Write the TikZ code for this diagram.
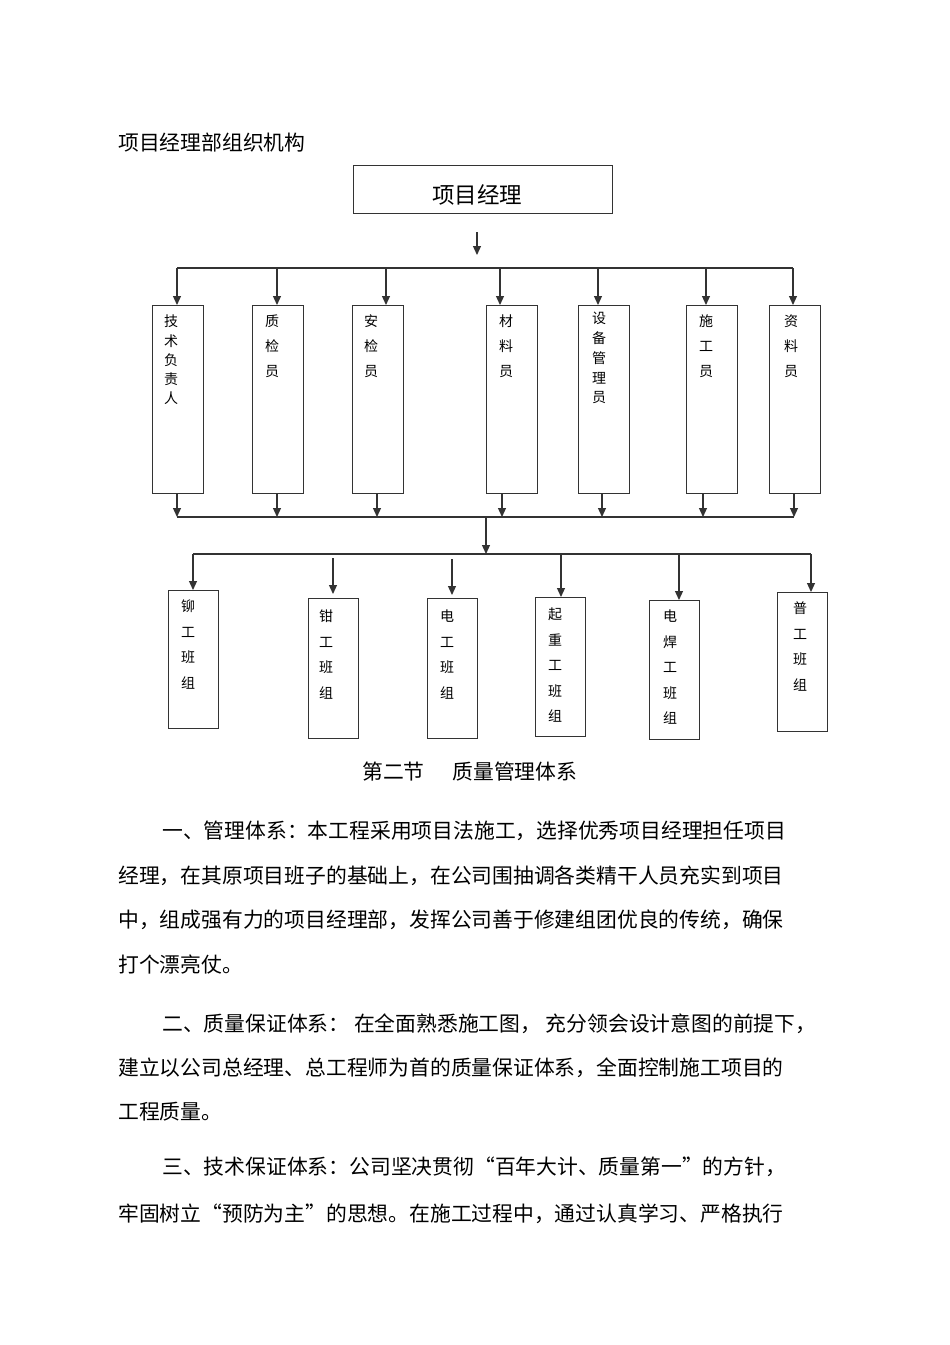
\documentclass[tikz,border=0pt]{standalone}
\usepackage{fontspec}
\setmainfont{Noto Sans CJK SC}
\usetikzlibrary{arrows.meta}

\begin{document}
\begin{tikzpicture}[x=1pt,y=-1pt,
  box/.style={draw=black!80,line width=1.2pt,inner sep=0pt,anchor=north west},
  vtext/.style={inner sep=0pt,anchor=north,align=center,font=\fontsize{14}{#1}\selectfont},
  vtext/.default=25,
  txt/.style={inner sep=0pt,anchor=west,font=\fontsize{20.8}{20.8}\selectfont},
  link/.style={draw=black!80,line width=1.2pt},
  arr/.style={link,-{Triangle[length=9pt,width=8pt]}}]

\useasboundingbox (0,0) rectangle (950,1345);

% heading
\node[txt] (title) at (118,143) {项目经理部组织机构};

% project manager
\node[box,minimum width=259pt,minimum height=48pt] (pm) at (353,165) {};
\node[inner sep=0pt,font=\fontsize{22.5}{22.5}\selectfont] (pmtext) at (477,195) {项目经理};
\coordinate (pmtop) at (477,232);
\coordinate (pmtip) at (477,255);
\draw[arr] (pmtop) -- (pmtip);

% staff
\foreach \n/\x/\ax/\bx in {b1/152/177/177,b2/252/277/277,b3/352/386/377,
  b4/486/500/502,b5/578/598/602,b6/686/706/703,b7/769/793/794}
{
  \node[box,minimum width=51pt,minimum height=188pt] (\n) at (\x,305) {};
  \coordinate (in-\n) at (\ax,268);
  \coordinate (out-\n) at (\bx,517);
  \draw[arr] (in-\n) -- (in-\n |- \n.north);
  \draw[arr] (out-\n |- \n.south) -- (out-\n);
}
\draw[link] (in-b1) -- (in-b7);
\draw[link] (out-b1) -- (out-b7);

\node[vtext=19.2] (b1t) at (171,315) {技\\术\\负\\责\\人};
\node[vtext] (b2t) at (272,315) {质\\检\\员};
\node[vtext] (b3t) at (371,315) {安\\检\\员};
\node[vtext] (b4t) at (506,315) {材\\料\\员};
\node[vtext=19.8] (b5t) at (599,312) {设\\备\\管\\理\\员};
\node[vtext] (b6t) at (706,315) {施\\工\\员};
\node[vtext] (b7t) at (791,315) {资\\料\\员};

% teams
\coordinate (mid) at (486,517);
\coordinate (midtip) at (486,554);
\draw[arr] (mid) -- (midtip);

\foreach \n/\x/\y/\h/\ax/\ay/\gap in {t1/168/590/138/193/554/0,t2/308/598/140/333/558/4,
  t3/427/598/140/452/559/3,t4/535/597/139/561/554/0,t5/649/600/139/679/554/0,
  t6/777/592/139/811/554/0}
{
  \node[box,minimum width=50pt,minimum height=\h pt] (\n) at (\x,\y) {};
  \coordinate (in-\n) at (\ax,\ay);
  \draw[arr,shorten >=\gap pt] (in-\n) -- (in-\n |- \n.north);
}
\draw[link] (in-t1) -- (in-t6);

\node[vtext=25.5] (t1t) at (188,600) {铆\\工\\班\\组};
\node[vtext=25.5] (t2t) at (326,610) {钳\\工\\班\\组};
\node[vtext=25.5] (t3t) at (447,610) {电\\工\\班\\组};
\node[vtext=25.5] (t4t) at (555,608) {起\\重\\工\\班\\组};
\node[vtext=25.5] (t5t) at (670,610) {电\\焊\\工\\班\\组};
\node[vtext=25.5] (t6t) at (800,602) {普\\工\\班\\组};

% text below
\node[txt] (sec) at (362,772) {第二节\hspace{28pt}质量管理体系};

\node[txt] (p1a) at (162,831) {一、管理体系：本工程采用项目法施工，选择优秀项目经理担任项目};
\node[txt] (p1b) at (118,876) {经理，在其原项目班子的基础上，在公司围抽调各类精干人员充实到项目};
\node[txt] (p1c) at (118,920) {中，组成强有力的项目经理部，发挥公司善于修建组团优良的传统，确保};
\node[txt] (p1d) at (118,965) {打个漂亮仗。};

\node[txt] (p2a) at (162,1024) {二、质量保证体系： 在全面熟悉施工图， 充分领会设计意图的前提下，};
\node[txt] (p2b) at (118,1068) {建立以公司总经理、总工程师为首的质量保证体系，全面控制施工项目的};
\node[txt] (p2c) at (118,1112) {工程质量。};

\node[txt] (p3a) at (162,1167) {三、技术保证体系：公司坚决贯彻“百年大计、质量第一”的方针，};
\node[txt] (p3b) at (118,1214) {牢固树立“预防为主”的思想。在施工过程中，通过认真学习、严格执行};

\end{tikzpicture}
\end{document}
